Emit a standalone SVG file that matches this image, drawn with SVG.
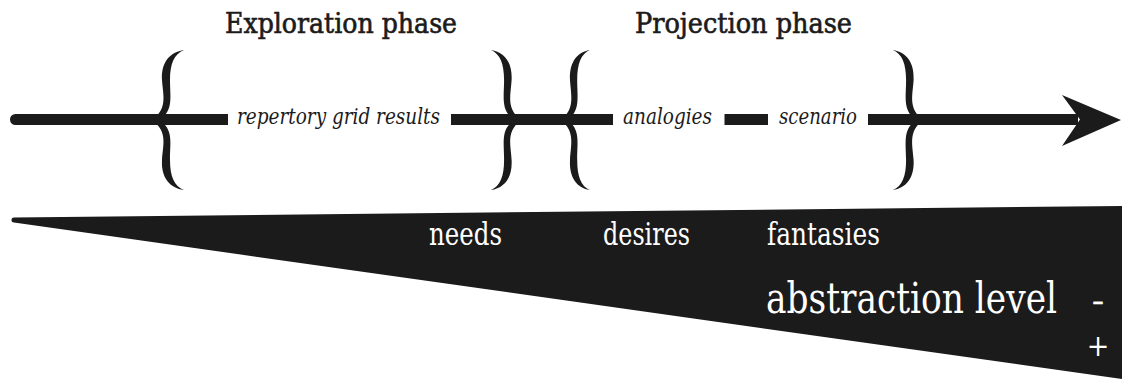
<svg xmlns="http://www.w3.org/2000/svg" width="1122" height="380" viewBox="0 0 1122 380">
  <defs>
    <style>
      .ink { fill: #1c1b1b; }
      text { font-family: "DejaVu Serif Condensed", "DejaVu Serif", serif; }
      .title { font-size: 28px; fill: #1c1b1b; stroke: #1c1b1b; stroke-width: 0.6px; }
      .lab { font-style: italic; font-size: 22px; fill: #1c1b1b; }
      .wlab { font-size: 32px; fill: #ffffff; }
    </style>
    <path id="brace" d="M 32 -70 C 18 -68, 9 -58, 10 -40 C 11 -24, 16 -12, 0 0 C 16 12, 11 24, 10 40 C 9 58, 18 68, 32 70 C 22 66, 18 56, 18 40 C 18 22, 22 8, 6 0 C 22 -8, 18 -22, 18 -40 C 18 -56, 22 -66, 32 -70 Z"/>
  </defs>

  <rect width="1122" height="380" fill="#ffffff"/>

  <g id="wedge">
    <path class="ink" d="M 14 217.5 L 1122 206 L 1122 379 L 14 222.5 A 2.5 2.5 0 0 1 14 217.5 Z"/>
  </g>

  <g id="connectors">
    <path class="ink" d="M 15.5 114 H 228 V 125 H 15.5 A 5.5 5.5 0 0 1 15.5 114 Z"/>
    <rect class="ink" x="451" y="114" width="162" height="11"/>
    <rect class="ink" x="724.5" y="114" width="43.5" height="11"/>
    <rect class="ink" x="868" y="114" width="210" height="11"/>
    <polygon class="ink" points="1121,120 1062,95 1080,119.5 1062,146"/>
  </g>

  <g id="exploration-phase">
    <text class="title" x="225" y="33" textLength="232" lengthAdjust="spacingAndGlyphs">Exploration phase</text>
    <use href="#brace" class="ink" transform="translate(152,120)"/>
    <use href="#brace" class="ink" transform="translate(521,120) scale(-0.94,1)"/>
    <text class="lab" x="237" y="124" textLength="203" lengthAdjust="spacingAndGlyphs">repertory grid results</text>
  </g>

  <g id="projection-phase">
    <text class="title" x="635" y="33" textLength="217" lengthAdjust="spacingAndGlyphs">Projection phase</text>
    <use href="#brace" class="ink" transform="translate(561,120) scale(0.9,1)"/>
    <use href="#brace" class="ink" transform="translate(923,120) scale(-0.94,1)"/>
    <text class="lab" x="623" y="124" textLength="89" lengthAdjust="spacingAndGlyphs">analogies</text>
    <text class="lab" x="779" y="124" textLength="78" lengthAdjust="spacingAndGlyphs">scenario</text>
  </g>

  <g id="levels">
    <text class="wlab" x="429" y="245" textLength="73" lengthAdjust="spacingAndGlyphs">needs</text>
    <text class="wlab" x="603" y="245" textLength="87" lengthAdjust="spacingAndGlyphs">desires</text>
    <text class="wlab" x="767" y="245" textLength="113" lengthAdjust="spacingAndGlyphs">fantasies</text>
  </g>

  <g id="abstraction-level">
    <text font-size="42" fill="#ffffff" x="766" y="313" textLength="291" lengthAdjust="spacingAndGlyphs">abstraction level</text>
    <text font-size="28" fill="#ffffff" stroke="#ffffff" stroke-width="0.4" x="1092" y="310" textLength="12" lengthAdjust="spacingAndGlyphs">-</text>
    <text font-size="30" fill="#ffffff" x="1098" y="356" text-anchor="middle">+</text>
  </g>
</svg>
